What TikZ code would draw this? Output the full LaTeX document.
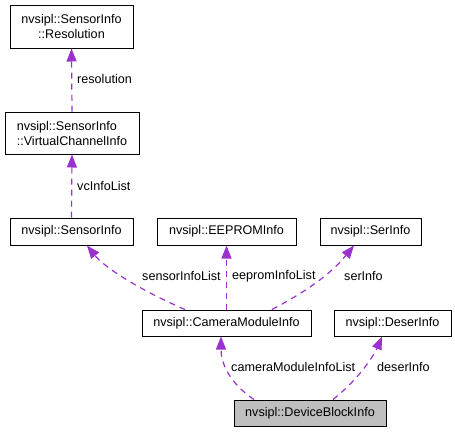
\documentclass[tikz,border=0pt]{standalone}
\usepackage{fontspec}
\setmainfont{Liberation Sans}
\usetikzlibrary{arrows.meta}
\definecolor{usageedge}{HTML}{9A32CD}
\definecolor{curclass}{HTML}{BFBFBF}

\begin{document}
\begin{tikzpicture}[
  x=1pt, y=-1pt,
  >={Triangle[length=13pt,width=10pt]},
  every node/.style={font=\fontsize{12.6}{15}\selectfont},
  classbox/.style={draw=black, line width=1pt, fill=white,
                   inner sep=0pt, align=center},
  usage/.style={->, draw=usageedge, line width=1.2pt,
                dash pattern=on 6pt off 5pt},
  edgelbl/.style={anchor=west, inner sep=0pt},
]
\useasboundingbox (0,0) rectangle (455,432);

% --- classes ---
\node[classbox, minimum width=123pt, minimum height=43pt] (res)    at (71.5,26.5)  {nvsipl::SensorInfo\\::Resolution};
\node[classbox, minimum width=134pt, minimum height=42pt, align=left] (vci) at (72,133) {nvsipl::SensorInfo\\::VirtualChannelInfo};
\node[classbox, minimum width=123pt, minimum height=27pt] (sinfo)  at (71.5,231.5) {nvsipl::SensorInfo};
\node[classbox, minimum width=139pt, minimum height=27pt] (eeprom) at (226.5,231.5) {nvsipl::EEPROMInfo};
\node[classbox, minimum width=101pt, minimum height=27pt] (ser)    at (370.5,231.5) {nvsipl::SerInfo};
\node[classbox, minimum width=169pt, minimum height=26pt] (cmi)    at (226.5,323)  {nvsipl::CameraModuleInfo};
\node[classbox, minimum width=117pt, minimum height=26pt] (deser)  at (392.5,323)  {nvsipl::DeserInfo};
\node[classbox, minimum width=152pt, minimum height=26pt, fill=curclass] (dbi) at (310,413) {nvsipl::DeviceBlockInfo};

% --- usage edges (arrow at the used class) ---
\draw[usage] (vci.north)   -- (res.south);
\draw[usage] (sinfo.north) -- (vci.south);
\draw[usage] (cmi.north -| 185,0) .. controls (140,290) and (105,268) .. (sinfo.south -| 87,0);
\draw[usage] (cmi.north)   -- (eeprom.south);
\draw[usage] (cmi.north -| 272,0) .. controls (305,292) and (330,275) .. (ser.south -| 354,0);
\draw[usage] (dbi.north -| 254,0) .. controls (228,382) and (221,362) .. (cmi.south -| 221,0);
\draw[usage] (dbi.north -| 333,0) .. controls (360,378) and (374,355) .. (deser.south -| 382,0);

% --- edge labels ---
\node[edgelbl] (lres)   at (77,79)   {resolution};
\node[edgelbl] (lvci)   at (77,186)  {vcInfoList};
\node[edgelbl] (lsinfo) at (142,276) {sensorInfoList};
\node[edgelbl] (leep)   at (232,276) {eepromInfoList};
\node[edgelbl] (lser)   at (344,276) {serInfo};
\node[edgelbl] (lcmi)   at (231,367) {cameraModuleInfoList};
\node[edgelbl] (ldes)   at (377,367) {deserInfo};
\end{tikzpicture}
\end{document}
